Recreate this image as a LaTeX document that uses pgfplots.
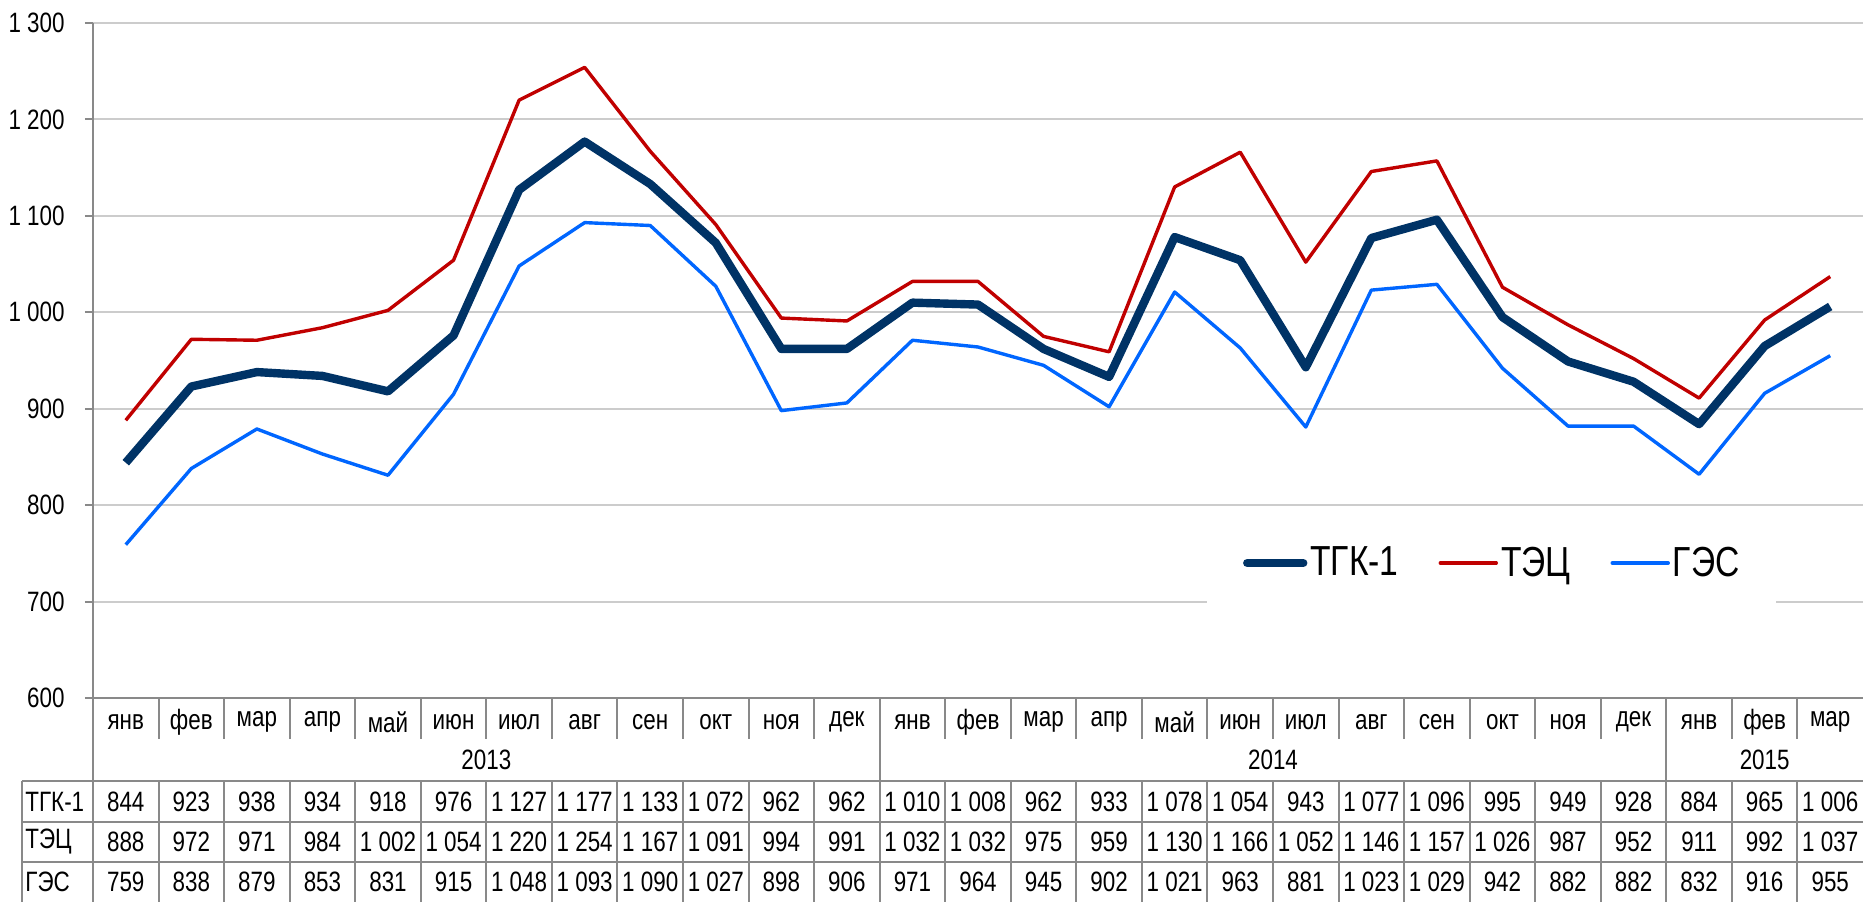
\documentclass[border=0pt]{standalone}
\usepackage{pgfplots}
\usepackage{pgfplotstable}
\pgfplotsset{compat=1.18}
\usepackage{fontspec}
\setmainfont{Liberation Sans}[FakeStretch=0.8]

\definecolor{tgk}{RGB}{0,51,102}
\definecolor{tec}{RGB}{192,0,0}
\definecolor{ges}{RGB}{0,102,255}
\definecolor{gridc}{RGB}{204,204,204}
\definecolor{linec}{RGB}{137,137,137}

\pgfplotstableread{
x tgk tec ges
0 844 888 759
1 923 972 838
2 938 971 879
3 934 984 853
4 918 1002 831
5 976 1054 915
6 1127 1220 1048
7 1177 1254 1093
8 1133 1167 1090
9 1072 1091 1027
10 962 994 898
11 962 991 906
12 1010 1032 971
13 1008 1032 964
14 962 975 945
15 933 959 902
16 1078 1130 1021
17 1054 1166 963
18 943 1052 881
19 1077 1146 1023
20 1096 1157 1029
21 995 1026 942
22 949 987 882
23 928 952 882
24 884 911 832
25 965 992 916
26 1006 1037 955
}\data

\newcommand\tabfont{\fontsize{14}{16}\selectfont}

\begin{document}
\begin{tikzpicture}
\begin{axis}[
  scale only axis,
  width=885pt, height=337.5pt,
  xmin=-0.5, xmax=26.5,
  ymin=600, ymax=1300,
  axis lines*=left,
  axis line style={linec, line width=1pt},
  xtick=\empty,
  ytick={600,700,...,1300},
  yticklabels={600,700,800,900,1\ 000,1\ 100,1\ 200,1\ 300},
  tick align=outside,
  major tick length=4pt,
  y tick style={linec, line width=1pt},
  yticklabel style={font=\tabfont, inner sep=0pt, xshift=-10pt},
  ymajorgrids,
  grid style={gridc, line width=1pt},
  clip=false,
  legend style={at={(0.79,0.2)}, anchor=center, draw=none, fill=white,
    font=\fontsize{21}{25}\selectfont, legend columns=-1,
    inner xsep=18pt, inner ysep=10pt,
    nodes={inner xsep=0pt, inner ysep=2pt},
    /tikz/every odd column/.append style={column sep=1.5pt},
    /tikz/every even column/.append style={column sep=20pt}},
  legend image code/.code={\draw[#1, line cap=round] (0pt,0pt) -- (28pt,0pt);},
  every axis plot/.append style={line join=round},
]
\addplot[tgk, line width=4.2pt] table[x=x, y=tgk] {\data};
\addlegendentry{ТГК-1}
\addplot[tec, line width=1.7pt] table[x=x, y=tec] {\data};
\addlegendentry{ТЭЦ}
\addplot[ges, line width=1.7pt] table[x=x, y=ges] {\data};
\addlegendentry{ГЭС}
\coordinate (sw) at (axis cs:-0.5,600);
\end{axis}

\pgfkeys{/pgf/number format/.cd, int detect, 1000 sep={\ }, assume math mode=true}
\def\cw{32.7778}
% month row separators
\foreach \k in {1,...,26} {
  \draw[linec, line width=1pt] ([shift={({\k*\cw pt},0pt)}]sw) -- ++(0,-20.5pt);
}
% year boundaries and left axis extension
\foreach \k in {0,12,24} {
  \draw[linec, line width=1pt] ([shift={({\k*\cw pt},0pt)}]sw) -- ++(0,-41.5pt);
}
% month labels
\foreach \m [count=\i from 0] in {янв,фев,мар,апр,май,июн,июл,авг,сен,окт,ноя,дек,янв,фев,мар,апр,май,июн,июл,авг,сен,окт,ноя,дек,янв,фев,мар} {
  \node[font=\tabfont, inner sep=0pt] at ([shift={({(\i+0.5)*\cw pt},-12pt)}]sw) {\m};
}
% year labels
\node[font=\tabfont, inner sep=0pt] at ([shift={({6*\cw pt},-31pt)}]sw) {2013};
\node[font=\tabfont, inner sep=0pt] at ([shift={({18*\cw pt},-31pt)}]sw) {2014};
\node[font=\tabfont, inner sep=0pt] at ([shift={({25.5*\cw pt},-31pt)}]sw) {2015};
% data table grid
\foreach \yy in {-41.5,-62,-82} {
  \draw[linec, line width=1pt] ([shift={(-35.5pt,\yy pt)}]sw) -- ([shift={({27*\cw pt},\yy pt)}]sw);
}
\draw[linec, line width=1pt] ([shift={(-35.5pt,-41.5pt)}]sw) -- ++(0,-60.5pt);
\foreach \k in {0,...,26} {
  \draw[linec, line width=1pt] ([shift={({\k*\cw pt},-41.5pt)}]sw) -- ++(0,-60.5pt);
}
% row labels
\node[font=\tabfont, inner sep=0pt, anchor=west] at ([shift={(-34pt,-51.75pt)}]sw) {ТГК-1};
\node[font=\tabfont, inner sep=0pt, anchor=west] at ([shift={(-34pt,-72pt)}]sw) {ТЭЦ};
\node[font=\tabfont, inner sep=0pt, anchor=west] at ([shift={(-34pt,-91.75pt)}]sw) {ГЭС};
% values
\foreach \i in {0,...,26} {
  \pgfplotstablegetelem{\i}{tgk}\of\data
  \node[font=\tabfont, inner sep=0pt] at ([shift={({(\i+0.5)*\cw pt},-51.75pt)}]sw) {\pgfmathprintnumber{\pgfplotsretval}};
  \pgfplotstablegetelem{\i}{tec}\of\data
  \node[font=\tabfont, inner sep=0pt] at ([shift={({(\i+0.5)*\cw pt},-72pt)}]sw) {\pgfmathprintnumber{\pgfplotsretval}};
  \pgfplotstablegetelem{\i}{ges}\of\data
  \node[font=\tabfont, inner sep=0pt] at ([shift={({(\i+0.5)*\cw pt},-91.75pt)}]sw) {\pgfmathprintnumber{\pgfplotsretval}};
}
\path[use as bounding box] ([shift={(-46.5pt,-102pt)}]sw) rectangle ([shift={(885.5pt,349pt)}]sw);
\end{tikzpicture}
\end{document}
